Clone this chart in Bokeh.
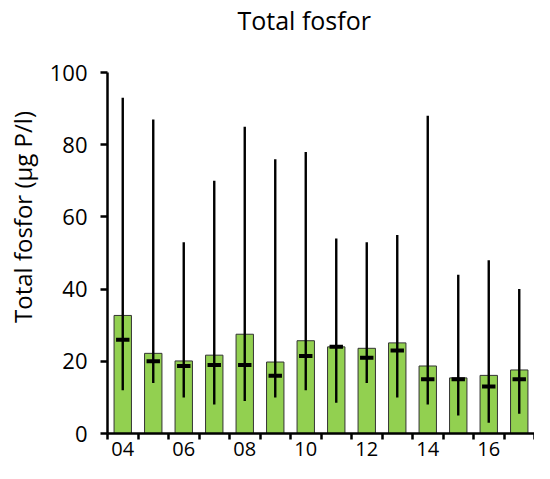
from bokeh.plotting import figure
from bokeh.models import Range1d, FixedTicker, ColumnDataSource, Label
from bokeh.embed import file_html
from bokeh.resources import INLINE

years = ["04", "05", "06", "07", "08", "09", "10", "11", "12", "13", "14", "15", "16", "17"]
mean_vals = [32.7, 22.2, 20.1, 21.7, 27.5, 19.8, 25.7, 24.0, 23.6, 25.1, 18.7, 15.4, 16.1, 17.6]
median_vals = [26, 20, 18.7, 19, 19, 16, 21.5, 24, 21, 23, 15, 15, 13, 15]
min_vals = [12, 14, 10, 8, 9, 10, 12, 8.5, 14, 10, 8, 5, 3, 5.5]
max_vals = [93, 87, 53, 70, 85, 76, 78, 54, 53, 55, 88, 44, 48, 40]
y_ticks = [0, 20, 40, 60, 80, 100]
title_text = "Total fosfor"
y_title = "Total fosfor (µg P/l)"

FONT = "Open Sans"
GREEN = "#92D050"

W, H = 534, 463
BOTTOM = 30          # space below the frame for the x-axis
TOP_PX = 72          # pixel distance from top of frame to the y=100 line
frame_h = H - BOTTOM
y_top = 100 * frame_h / (frame_h - TOP_PX)

xs = list(range(len(years)))
src = ColumnDataSource(dict(
    x=xs,
    mean=mean_vals,
    med=median_vals,
    lo=min_vals,
    hi=max_vals,
    mx0=[x - 0.22 for x in xs],
    mx1=[x + 0.22 for x in xs],
))

p = figure(width=W, height=H, output_backend="svg", toolbar_location=None,
           x_range=Range1d(-0.5, len(years) - 0.5), y_range=Range1d(0, y_top),
           min_border_left=107, min_border_right=0, min_border_top=0,
           min_border_bottom=BOTTOM)

p.vbar(x="x", top="mean", bottom=0, width=0.57, source=src,
       fill_color=GREEN, line_color="#333333", line_width=1)
p.segment(x0="x", y0="lo", x1="x", y1="hi", source=src,
          line_color="black", line_width=2.4)
p.segment(x0="mx0", y0="med", x1="mx1", y1="med", source=src,
          line_color="black", line_width=4)

p.xgrid.visible = False
p.ygrid.visible = False
p.outline_line_color = None
p.background_fill_color = "white"
p.border_fill_color = "white"

# chart title (drawn inside the frame area above the y=100 line)
px_per_unit = (frame_h - TOP_PX) / 100.0
p.add_layout(Label(x=5.95, y=100 + (TOP_PX - 19) / px_per_unit, text=title_text,
                   text_font=FONT, text_font_size="25px", text_color="black",
                   text_align="center", text_baseline="alphabetic"))

# x axis: ticks at category boundaries (minor), labels at every other category centre
xa = p.xaxis[0]
xa.ticker = FixedTicker(ticks=xs[::2], minor_ticks=[x - 0.5 for x in range(len(years) + 1)])
xa.major_label_overrides = {x: years[x] for x in xs[::2]}
xa.major_tick_out = 0
xa.major_tick_in = 0
xa.minor_tick_out = 6
xa.minor_tick_in = 0
xa.minor_tick_line_width = 2.5
xa.minor_tick_line_color = "black"
xa.axis_line_width = 2.5
xa.axis_line_color = "black"
xa.major_label_text_font = FONT
xa.major_label_text_font_size = "20px"
xa.major_label_text_color = "black"
xa.major_label_standoff = 2

ya = p.yaxis[0]
ya.bounds = (0, 100)
ya.ticker = FixedTicker(ticks=y_ticks, minor_ticks=[])
ya.major_tick_out = 7
ya.major_tick_in = 0
ya.major_tick_line_width = 2.5
ya.major_tick_line_color = "black"
ya.axis_line_width = 2.5
ya.axis_line_color = "black"
ya.major_label_text_font = FONT
ya.major_label_text_font_size = "22px"
ya.major_label_text_color = "black"
ya.major_label_standoff = 13
ya.axis_label = y_title
ya.axis_label_text_font = FONT
ya.axis_label_text_font_size = "24px"
ya.axis_label_text_font_style = "normal"
ya.axis_label_text_color = "black"
ya.axis_label_standoff = 8

open("out.html", "w").write(file_html(p, INLINE))
